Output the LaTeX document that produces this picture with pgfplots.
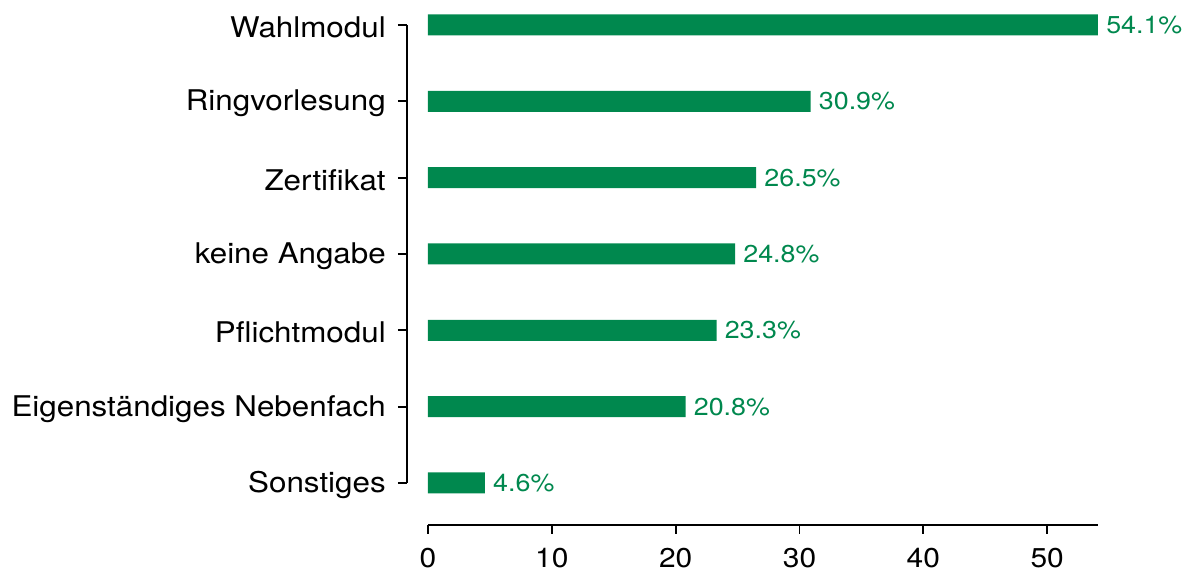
\documentclass[border=0pt]{standalone}
\usepackage{fontspec}
\setmainfont{TeX Gyre Heros}[FakeStretch=1.1]
\usepackage{pgfplots}
\pgfplotsset{compat=1.18}
\definecolor{bargreen}{HTML}{00884E}
\begin{document}
\begin{tikzpicture}
\begin{axis}[
  scale only axis, width=335pt, height=229pt,
  xbar, bar width=10.5pt,
  xmin=0, xmax=54.1, ymin=0, ymax=6,
  axis lines*=left,
  axis x line shift=21pt,
  axis y line shift=10.5pt,
  xtick={0,10,...,50},
  ytick={0,...,6},
  yticklabels={Sonstiges, Eigenständiges Nebenfach, Pflichtmodul, keine Angabe, Zertifikat, Ringvorlesung, Wahlmodul},
  tick align=outside, major tick length=4.5pt,
  tick style={black, line width=0.9pt},
  axis line style={line width=0.9pt},
  xticklabel style={font=\fontsize{13.6}{15}\selectfont, yshift=-3.5pt},
  yticklabel style={font=\fontsize{14.25}{16}\selectfont, xshift=-2.6pt, yshift=-1.1pt},
  /pgf/number format/assume math mode=true,
  point meta=x,
  nodes near coords={\pgfmathprintnumber[fixed,precision=1,fixed zerofill]{\pgfplotspointmeta}\%},
  nodes near coords style={font=\fontsize{12.2}{14}\selectfont, color=bargreen, xshift=0.6pt},
  clip=false,
]
\addplot[fill=bargreen, draw=none] coordinates {(4.6,0) (20.8,1) (23.3,2) (24.8,3) (26.5,4) (30.9,5) (54.1,6)};
\end{axis}
\pgfresetboundingbox
\path[use as bounding box] ([xshift=-214pt,yshift=-44.5pt]current axis.south west) rectangle ([xshift=45.5pt,yshift=12.5pt]current axis.north east);
\end{tikzpicture}
\end{document}
